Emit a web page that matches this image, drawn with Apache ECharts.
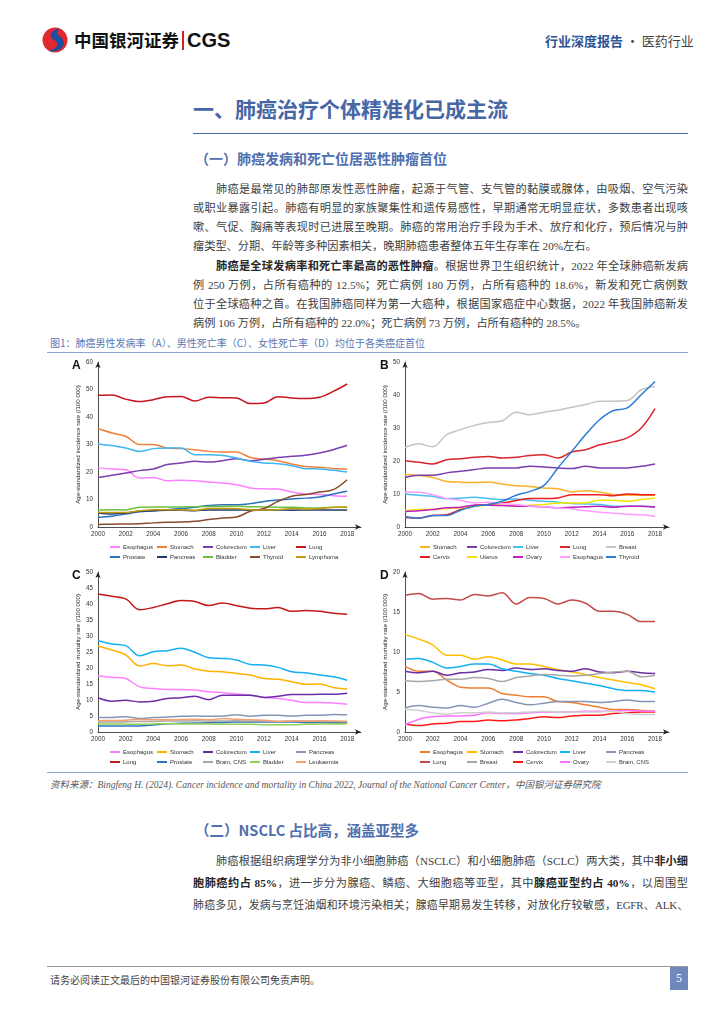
<!DOCTYPE html>
<html lang="zh-CN">
<head>
<meta charset="utf-8">
<script src="https://cdn.jsdelivr.net/npm/echarts/dist/echarts.min.js"></script>
<style>
  body{margin:0;width:724px;height:1024px;position:relative;background:#fff;overflow:hidden;font-family:"Liberation Serif","Noto Sans CJK SC",serif;}
  .abs{position:absolute;white-space:nowrap;}
  .ln{position:absolute;left:193px;width:495px;font-size:11.2px;color:#404040;height:16px;line-height:16px;text-align:justify;text-align-last:justify;}
  .ln.last{text-align-last:left;}
  .ln.ind{left:216px;width:472px;}
  .ln.tight{font-size:10.9px;letter-spacing:-0.15px;}
  .ln b{color:#262626;}
  .hr{position:absolute;height:0;}
  #chart{position:absolute;left:0;top:0;width:724px;height:1024px;}
</style>
</head>
<body>
<!-- header -->
<svg class="abs" style="left:41px;top:26px" width="28" height="28" viewBox="0 0 28 28">
  <circle cx="14" cy="14" r="12.5" fill="#e0282e"/>
  <path d="M19 2.5 C9 4 7 11 13 14 C19 17 17 23 7 25 C15 27 25 22 22.5 14.5 C20.5 9 12 9.5 19 2.5 Z" fill="#1d4f9f"/>
</svg>
<div class="abs" style="left:74px;top:29px;font-family:'Noto Sans CJK SC';font-weight:bold;font-size:17.5px;line-height:22px;color:#111;">中国银河证券</div>
<div class="abs" style="left:182px;top:31px;width:1.5px;height:19px;background:#d02020;"></div>
<div class="abs" style="left:187px;top:27px;font-family:'Liberation Sans';font-weight:bold;font-size:20px;line-height:26px;color:#111;">CGS</div>
<div class="abs" style="left:545px;top:32px;font-family:'Noto Sans CJK SC';font-size:13px;line-height:18px;color:#444;"><span style="color:#2d5597;font-weight:bold;">行业深度报告</span> · 医药行业</div>

<!-- title -->
<div class="abs" style="left:193px;top:94px;font-family:'Noto Sans CJK SC';font-weight:bold;font-size:21px;line-height:28px;color:#4766a6;">一、肺癌治疗个体精准化已成主流</div>
<div class="hr" style="left:193px;top:133px;width:495px;border-top:1.5px solid #4766a6;"></div>
<div class="abs" style="left:195px;top:149px;font-family:'Noto Sans CJK SC';font-weight:bold;font-size:14px;line-height:18px;color:#4f6fae;">（一）肺癌发病和死亡位居恶性肿瘤首位</div>

<!-- para 1/2 -->
<div class="ln ind" style="top:181px">肺癌是最常见的肺部原发性恶性肿瘤，起源于气管、支气管的黏膜或腺体，由吸烟、空气污染</div>
<div class="ln" style="top:200px">或职业暴露引起。肺癌有明显的家族聚集性和遗传易感性，早期通常无明显症状，多数患者出现咳</div>
<div class="ln" style="top:219px">嗽、气促、胸痛等表现时已进展至晚期。肺癌的常用治疗手段为手术、放疗和化疗，预后情况与肿</div>
<div class="ln last" style="top:238px">瘤类型、分期、年龄等多种因素相关，晚期肺癌患者整体五年生存率在 20%左右。</div>
<div class="ln ind" style="top:258px"><b>肺癌是全球发病率和死亡率最高的恶性肿瘤</b>。根据世界卫生组织统计，2022 年全球肺癌新发病</div>
<div class="ln" style="top:277px">例 250 万例，占所有癌种的 12.5%；死亡病例 180 万例，占所有癌种的 18.6%，新发和死亡病例数</div>
<div class="ln" style="top:296px">位于全球癌种之首。在我国肺癌同样为第一大癌种，根据国家癌症中心数据，2022 年我国肺癌新发</div>
<div class="ln last" style="top:315px">病例 106 万例，占所有癌种的 22.0%；死亡病例 73 万例，占所有癌种的 28.5%。</div>

<div class="abs" style="left:50px;top:336px;font-family:'Noto Sans CJK SC';font-size:10px;line-height:14px;color:#5a78b4;">图1：肺癌男性发病率（A）、男性死亡率（C）、女性死亡率（D）均位于各类癌症首位</div>
<div class="hr" style="left:47px;top:352px;width:641px;border-top:1.5px solid #8ea6d4;"></div>

<div class="hr" style="left:47px;top:772px;width:641px;border-top:1.5px solid #8ea6d4;"></div>
<div class="abs" style="left:50px;top:778px;font-size:9.5px;line-height:14px;color:#555;font-style:italic;">资料来源：Bingfeng H. (2024). Cancer incidence and mortality in China 2022, Journal of the National Cancer Center，中国银河证券研究院</div>

<div class="abs" style="left:195px;top:820px;font-family:'Noto Sans CJK SC';font-weight:bold;font-size:14.5px;line-height:20px;color:#4f6fae;">（二）NSCLC 占比高，涵盖亚型多</div>
<div class="ln ind" style="top:853px">肺癌根据组织病理学分为非小细胞肺癌（NSCLC）和小细胞肺癌（SCLC）两大类，其中<b>非小细</b></div>
<div class="ln" style="top:875px"><b>胞肺癌约占 85%</b>，进一步分为腺癌、鳞癌、大细胞癌等亚型，其中<b>腺癌亚型约占 40%</b>，以周围型</div>
<div class="ln tight" style="top:897px">肺癌多见，发病与烹饪油烟和环境污染相关；腺癌早期易发生转移，对放化疗较敏感，EGFR、ALK、</div>

<!-- footer -->
<div class="hr" style="left:47px;top:966px;width:641px;border-top:1px solid #999;"></div>
<div class="abs" style="left:50px;top:973px;font-family:'Noto Sans CJK SC';font-size:10px;line-height:14px;color:#444;">请务必阅读正文最后的中国银河证券股份有限公司免责声明。</div>
<div class="abs" style="left:670px;top:967px;width:18px;height:23px;background:#6f89bd;color:#fff;font-size:12px;line-height:23px;text-align:center;">5</div>

<div id="chart"></div>
<script>
const years = [2000,2001,2002,2003,2004,2005,2006,2007,2008,2009,2010,2011,2012,2013,2014,2015,2016,2017,2018];
const xTicks = [2000,2002,2004,2006,2008,2010,2012,2014,2016,2018];

// Panel A: male incidence
const aEsophagus = [21.5,21.1,20.8,17.8,18.0,16.8,17.0,16.8,16.4,16.0,15.4,14.2,13.9,13.8,12.7,12.0,11.8,11.4,11.2];
const aStomach   = [35.8,34.2,33.0,30.0,30.0,28.7,28.5,28.1,27.5,27.3,27.3,25.3,24.7,24.1,22.9,22.0,21.7,21.3,21.0];
const aColorectum= [18.0,18.8,19.6,20.5,21.1,22.7,23.3,23.9,23.6,24.1,24.8,24.1,24.6,25.3,25.7,26.1,26.9,28.1,29.7];
const aLiver     = [30.2,29.6,28.7,27.5,28.5,28.7,28.7,26.3,26.3,26.0,25.1,23.9,23.3,23.0,22.3,21.2,21.1,20.6,20.0];
const aLung      = [47.9,48.0,46.5,45.6,46.3,47.4,47.5,45.8,47.2,47.0,46.9,44.9,45.1,47.4,46.9,46.7,47.2,49.3,52.0];
const aProstate  = [3.5,3.9,4.7,5.5,5.9,6.3,6.7,7.2,7.8,8.1,8.1,8.5,9.3,9.8,10.2,10.5,10.9,12.0,13.0];
const aPancreas  = [5.1,4.7,5.1,5.7,5.9,6.1,6.1,5.9,6.2,6.2,6.2,6.1,6.2,6.2,6.1,6.2,6.2,6.2,6.2];
const aBladder   = [6.2,6.3,6.2,7.2,7.3,7.3,7.3,7.4,7.5,7.5,7.6,7.4,7.3,7.2,7.2,6.9,6.9,7.2,7.3];
const aThyroid   = [0.9,1.0,1.1,1.2,1.5,1.7,1.8,2.1,2.7,3.3,3.6,5.7,6.7,9.3,11.2,11.8,12.7,13.6,17.2];
const aLymphoma  = [5.3,5.3,5.3,5.9,6.3,6.3,6.2,6.1,6.7,6.7,6.7,6.3,6.2,6.3,6.7,6.5,6.7,7.2,7.2];

// Panel B: female incidence
const bStomach   = [15.9,15.6,15.0,13.8,13.6,13.5,13.6,13.0,12.5,12.3,11.8,11.6,10.6,11.0,10.6,9.8,9.6,9.6,9.6];
const bColorectum= [15.0,15.7,15.7,16.4,16.9,17.4,17.9,17.9,17.9,18.4,18.2,17.9,17.7,18.4,17.9,17.9,17.9,18.4,19.1];
const bLiver     = [10.0,9.6,9.3,8.6,8.8,9.0,8.6,8.3,8.5,8.1,7.8,7.5,7.1,7.0,6.8,6.3,6.3,6.3,6.1];
const bLung      = [20.1,19.6,19.1,20.4,20.7,21.1,21.4,20.9,21.1,21.7,21.9,20.9,22.7,23.4,24.9,25.8,27.0,30.0,35.9];
const bBreast    = [24.1,25.2,24.3,28.0,29.5,30.8,31.7,32.2,34.8,34.0,34.8,35.4,36.3,37.1,38.1,38.1,38.3,41.6,42.6];
const bCervix    = [2.9,2.7,3.5,3.7,5.3,6.6,6.8,7.3,8.0,8.6,8.6,8.8,9.8,9.8,9.8,9.5,10.0,9.8,9.8];
const bUterus    = [4.9,5.3,5.3,5.6,5.8,6.3,6.6,6.6,6.3,6.6,6.8,7.3,7.3,7.3,8.1,8.1,7.8,8.3,8.8];
const bOvary     = [4.7,4.9,5.3,5.8,6.0,6.6,6.6,6.5,6.3,6.3,6.1,5.8,6.0,6.1,6.3,6.0,6.3,6.3,6.0];
const bEsophagus = [10.6,10.5,9.8,8.6,8.1,7.3,7.5,7.1,6.8,6.3,6.1,5.8,5.5,4.9,4.5,4.2,3.9,3.7,3.2];
const bThyroid   = [3.2,2.7,3.5,3.5,5.1,6.3,6.8,7.8,9.6,10.8,12.6,17.9,22.9,28.0,32.5,35.3,36.1,40.1,44.1];

// Panel C: male mortality
const cEsophagus = [17.6,17.1,16.7,14.1,13.6,13.3,13.3,13.1,12.6,12.3,11.9,11.5,10.8,10.5,9.9,9.2,9.2,9.1,8.7];
const cStomach   = [26.9,25.6,24.1,20.6,21.4,20.7,20.9,19.7,19.0,18.8,18.3,17.8,16.7,16.5,15.7,14.9,15.0,13.9,13.4];
const cColorectum= [10.7,9.6,9.9,9.4,9.6,10.5,10.7,11.2,10.1,11.5,11.5,11.5,10.8,11.2,11.7,11.7,11.8,11.8,12.1];
const cLiver     = [28.5,27.5,27.0,23.8,25.1,25.4,26.2,24.9,23.2,23.0,22.5,21.1,20.9,20.2,18.8,18.5,17.8,17.3,16.2];
const cPancreas  = [4.5,4.5,4.8,4.2,4.5,4.7,4.9,5.0,4.9,5.0,5.4,4.9,5.2,5.2,5.0,5.2,5.2,5.5,5.4];
const cLung      = [43.1,42.4,41.6,38.2,38.9,40.1,41.1,40.8,39.5,40.3,39.5,38.7,38.5,38.9,37.7,38.0,37.7,37.1,36.8];
const cProstate  = [1.9,1.9,1.9,1.9,2.2,2.6,2.7,2.8,2.9,3.0,3.1,3.1,3.1,3.1,3.1,3.0,3.0,2.9,2.9];
const cBrainCNS  = [3.1,3.1,3.2,3.3,3.3,3.4,3.4,3.5,3.4,3.4,3.5,3.4,3.4,3.3,3.4,3.4,3.3,3.3,3.3];
const cBladder   = [2.6,2.5,2.5,2.4,2.5,2.6,2.5,2.5,2.5,2.4,2.4,2.4,2.3,2.3,2.3,2.4,2.5,2.5,2.6];
const cLeukaemia = [3.5,3.6,3.7,3.9,3.8,3.8,3.9,4.0,3.8,4.2,4.0,3.8,3.7,3.3,3.4,3.4,3.5,3.4,3.3];

// Panel D: female mortality
const dEsophagus = [8.2,7.6,7.6,6.5,5.6,5.5,5.5,4.8,4.6,4.4,4.4,3.8,3.7,3.4,3.1,2.8,2.8,2.7,2.6];
const dStomach   = [12.2,11.6,10.9,9.6,9.6,9.1,9.4,9.0,8.5,8.5,8.2,7.8,7.5,7.2,6.8,6.5,6.2,5.9,5.4];
const dColorectum= [7.6,7.4,7.6,7.1,7.4,7.5,7.8,7.7,8.0,7.8,7.9,7.7,7.6,7.9,7.5,7.4,7.6,7.4,7.3];
const dLiver     = [9.1,9.2,8.7,8.0,8.2,8.5,8.5,7.9,7.6,7.3,7.1,6.7,6.4,6.1,5.8,5.4,5.2,5.2,5.0];
const dPancreas  = [3.0,3.3,3.1,3.0,3.3,3.1,3.6,4.1,3.7,3.4,3.6,3.8,3.8,3.8,3.7,3.8,4.0,3.8,3.8];
const dLung      = [17.1,17.3,16.6,16.7,16.5,17.2,17.0,17.4,16.0,16.8,16.7,16.0,16.5,16.1,15.1,15.1,14.7,13.8,13.8];
const dBreast    = [6.4,6.3,6.4,6.6,6.6,6.8,6.7,6.3,6.8,7.0,7.2,7.1,7.0,7.1,7.3,7.5,7.6,6.9,7.1];
const dCervix    = [1.0,0.8,1.0,1.1,1.3,1.3,1.5,1.4,1.5,1.7,1.9,1.8,2.0,2.1,2.1,2.3,2.4,2.5,2.5];
const dOvary     = [0.9,1.6,1.9,2.0,2.0,2.1,2.4,2.3,2.3,2.4,2.5,2.5,2.5,2.6,2.6,2.6,2.7,2.6,2.6];
const dBrainCNS  = [2.8,2.7,2.4,2.2,2.4,2.4,2.5,2.4,2.4,2.5,2.6,2.5,2.5,2.5,2.5,2.6,2.3,2.2,2.2];

const aNames = ['Esophagus','Stomach','Colorectum','Liver','Lung','Prostate','Pancreas','Bladder','Thyroid','Lymphoma'];
const bNames = ['Stomach','Colorectum','Liver','Lung','Breast','Cervix','Uterus','Ovary','Esophagus','Thyroid'];
const cNames = ['Esophagus','Stomach','Colorectum','Liver','Pancreas','Lung','Prostate','Brain, CNS','Bladder','Leukaemia'];
const dNames = ['Esophagus','Stomach','Colorectum','Liver','Pancreas','Lung','Breast','Cervix','Ovary','Brain, CNS'];

const panels = [
  {key:'A', names:aNames, values:[aEsophagus,aStomach,aColorectum,aLiver,aLung,aProstate,aPancreas,aBladder,aThyroid,aLymphoma],
   colors:['#ff80ff','#f3803a','#7a3fae','#3fb6f0','#c8161d','#2a6fc0','#1f3a6a','#6cc13c','#8a4a2c','#c49a10'],
   yMax:60, yStep:10, yName:'Age-standardized incidence rate (/100 000)'},
  {key:'B', names:bNames, values:[bStomach,bColorectum,bLiver,bLung,bBreast,bCervix,bUterus,bOvary,bEsophagus,bThyroid],
   colors:['#fbb12a','#7a3fae','#46c0f2','#d8262a','#c4c4c4','#ee1c1c','#f2e600','#c21fc2','#ff9cff','#2d7ad6'],
   yMax:50, yStep:10, yName:'Age-standardized incidence rate (/100 000)'},
  {key:'C', names:cNames, values:[cEsophagus,cStomach,cColorectum,cLiver,cPancreas,cLung,cProstate,cBrainCNS,cBladder,cLeukaemia],
   colors:['#ff80ff','#ffb000','#6a2ea6','#12b0f0','#8496b4','#c41818','#2e74c0','#a8a8a8','#92d050','#f4a070'],
   yMax:50, yStep:5, yName:'Age-standardized mortality rate (/100 000)'},
  {key:'D', names:dNames, values:[dEsophagus,dStomach,dColorectum,dLiver,dPancreas,dLung,dBreast,dCervix,dOvary,dBrainCNS],
   colors:['#ee7d31','#ffbf00','#6a2ea6','#12b0f0','#8496b4','#c44a4a','#a9a9a9','#ff1a1a','#ff70ff','#d0d0d0'],
   yMax:20, yStep:5, yName:'Age-standardized mortality rate (/100 000)'}
];

const layout = {
  A:{left:98, top:362, width:263, height:165, legendX:[110,157,203,250,296], legendY:[548,558], label:[72,360]},
  B:{left:405, top:362, width:264, height:165, legendX:[420,467,513,560,606], legendY:[548,558], label:[380,360]},
  C:{left:98, top:572, width:263, height:160, legendX:[110,157,203,250,296], legendY:[753,763], label:[72,570]},
  D:{left:405, top:572, width:264, height:160, legendX:[420,467,513,560,606], legendY:[753,763], label:[380,570]}
};

const grid=[], xAxis=[], yAxis=[], series=[], legend=[], graphic=[];
const axisLineStyle = {show:true, lineStyle:{color:'#222', width:0.8}, symbol:['none','arrow'], symbolSize:[4,6]};
panels.forEach((p, gi) => {
  const L = layout[p.key];
  grid.push({left:L.left, top:L.top, width:L.width, height:L.height, containLabel:false});
  xAxis.push({type:'value', gridIndex:gi, min:2000, max:2019, interval:2,
    axisLine:axisLineStyle, axisTick:{show:false}, splitLine:{show:false},
    axisLabel:{fontSize:6.3, color:'#333', margin:4, fontFamily:'Liberation Sans',
      formatter:v => xTicks.includes(v) ? String(v) : ''}});
  yAxis.push({type:'value', gridIndex:gi, min:0, max:p.yMax, interval:p.yStep,
    axisLine:axisLineStyle, axisTick:{show:false}, splitLine:{show:false},
    axisLabel:{fontSize:6.3, color:'#333', margin:5, fontFamily:'Liberation Sans'},
    name:p.yName, nameLocation:'middle', nameGap:17,
    nameTextStyle:{fontSize:6.2, color:'#222', fontFamily:'Liberation Sans'}});
  p.names.forEach((n, k) => {
    const id = p.key + ':' + n;
    series.push({type:'line', name:id, xAxisIndex:gi, yAxisIndex:gi, smooth:0.35,
      symbol:'none', color:p.colors[k], lineStyle:{width:1.5, color:p.colors[k]},
      data: years.map((y, i) => [y, p.values[k][i]])});
    legend.push({data:[id], left:L.legendX[k % 5], top:L.legendY[Math.floor(k / 5)] - 4,
      padding:0, icon:'rect', itemWidth:10, itemHeight:2,
      formatter:nm => nm.split(':')[1],
      textStyle:{fontSize:6, color:'#333', fontFamily:'Liberation Sans', padding:[0,0,0,-2]}});
  });
  graphic.push({type:'text', left:L.label[0], top:L.label[1],
    style:{text:p.key, font:'bold 12px "Liberation Sans"', fill:'#111'}});
});

const chart = echarts.init(document.getElementById('chart'), null, {renderer:'canvas'});
chart.setOption({animation:false, backgroundColor:'transparent', grid, xAxis, yAxis, series, legend, graphic});
</script>
</body>
</html>
